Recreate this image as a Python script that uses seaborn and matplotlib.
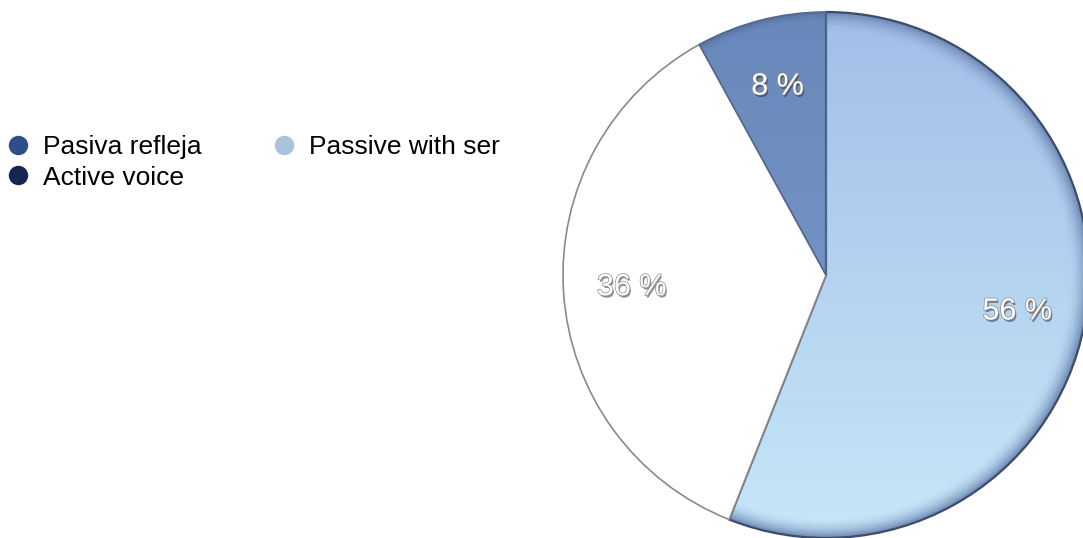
import numpy as np
import matplotlib
matplotlib.use("Agg")
import matplotlib.pyplot as plt
import matplotlib.patheffects as pe
from matplotlib.colors import to_rgb
from matplotlib.lines import Line2D
import seaborn as sns

# Share of each construction
categories = ["Passive with ser", "Active voice", "Pasiva refleja"]
shares = [56, 36, 8]
legend_order = ["Pasiva refleja", "Active voice", "Passive with ser"]
legend_colors = {"Pasiva refleja": "#2b4f86",
                 "Active voice": "#182550",
                 "Passive with ser": "#a8c3da"}

sns.set_theme(style="white")
plt.rcParams["font.family"] = ["Liberation Sans", "DejaVu Sans"]

W, H = 1083, 538
fig = plt.figure(figsize=(W / 100, H / 100), dpi=100)
fig.patch.set_facecolor("white")

cx, cy, r = 826, 275, 263
ax = fig.add_axes([(cx - r) / W, (H - cy - r) / H, 2 * r / W, 2 * r / H])

wedges, texts, autotexts = ax.pie(
    shares, startangle=90, counterclock=False, radius=1,
    autopct=lambda p: f"{p:.0f} %", pctdistance=0.74,
    colors=["none", "white", "none"],
    wedgeprops=dict(linewidth=1.2, edgecolor="#8a8a8a"),
    textprops=dict(fontsize=22, color="white"),
)
ax.set_xlim(-1, 1)
ax.set_ylim(-1, 1)
ax.set_aspect("equal")
ax.axis("off")
for w in wedges:
    w.set_clip_on(False)


def shaded_fill(wedge, top, bottom, rim, rim_width=0.08):
    """Fill a wedge with a vertical gradient and a darker rim near the edge."""
    n = 600
    ys, xs = np.mgrid[1:-1:n * 1j, -1:1:n * 1j]
    t = (1 - ys) / 2
    c_top, c_bot, c_rim = map(np.array, (to_rgb(top), to_rgb(bottom), to_rgb(rim)))
    img = c_top[None, None, :] * (1 - t[..., None]) + c_bot[None, None, :] * t[..., None]
    rad = np.hypot(xs, ys)
    k = np.clip((rad - (1 - rim_width)) / rim_width, 0, 1) ** 2
    img = img * (1 - k[..., None]) + c_rim[None, None, :] * k[..., None]
    im = ax.imshow(img, extent=(-1, 1, -1, 1), origin="upper", zorder=0.5,
                   interpolation="bilinear")
    im.set_clip_path(wedge)
    im.set_clip_on(True)


shaded_fill(wedges[0], "#a2bfe8", "#c6e7f8", "#6d86b4")
shaded_fill(wedges[2], "#6888bb", "#7e9dcd", "#58719e", rim_width=0.04)
wedges[0].set_edgecolor("#3c4c6a")
wedges[0].set_linewidth(1.6)
wedges[0].set_zorder(1)
wedges[2].set_edgecolor("#52688f")
wedges[2].set_zorder(1)

for t in autotexts:
    t.set_zorder(3)
    t.set_path_effects([
        pe.SimplePatchShadow(offset=(1.0, -1.6), shadow_rgbFace="#222222", alpha=0.5),
        pe.Stroke(linewidth=1.0, foreground="#8c8c8c"),
        pe.Normal(),
    ])

handles = [Line2D([], [], marker="o", linestyle="none", markersize=14,
                  markerfacecolor=legend_colors[c], markeredgecolor="none")
           for c in legend_order]
fig.legend(handles, legend_order, ncol=2, loc="upper left",
           bbox_to_anchor=(-3 / W, (H - 127) / H), frameon=False,
           fontsize=19, handletextpad=0.45, columnspacing=2.6,
           labelspacing=0.25, handlelength=1.0, borderaxespad=0.0,
           borderpad=0.3, labelcolor="black")

fig.savefig("out.png", dpi=100)
